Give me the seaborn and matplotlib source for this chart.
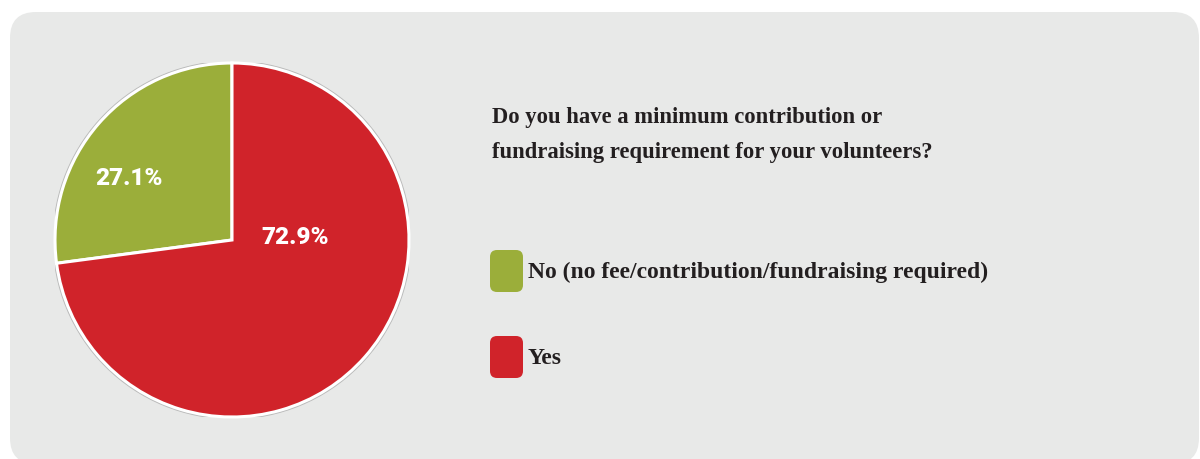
import matplotlib
matplotlib.use("Agg")
import matplotlib.pyplot as plt
from matplotlib.patches import FancyBboxPatch, Circle
import seaborn as sns

sns.set_theme(style="white")

# Survey answers and their shares (%)
answers = ["No (no fee/contribution/fundraising required)", "Yes"]
shares = [27.1, 72.9]
colors = ["#9bae3a", "#d0232a"]
question = "Do you have a minimum contribution or\nfundraising requirement for your volunteers?"

W, H = 1200, 459
fig = plt.figure(figsize=(W / 100, H / 100), dpi=100)
fig.patch.set_facecolor("white")

# Full-figure canvas in pixel units for the panel, title and legend
canvas = fig.add_axes([0, 0, 1, 1])
canvas.set_xlim(0, W)
canvas.set_ylim(H, 0)
canvas.axis("off")
canvas.add_patch(FancyBboxPatch((10, 12), 1189, 452,
                                boxstyle="round,pad=0,rounding_size=26",
                                facecolor="#e8e9e8", edgecolor="none", zorder=0))

text_color = "#231f20"
serif = ["Liberation Serif", "DejaVu Serif"]

lines = question.split("\n")
for line, base in zip(lines, [123, 158]):
    canvas.text(492, base, line, fontsize=16.3, fontweight="bold",
                family=serif, color=text_color, va="baseline", ha="left")

# Legend: rounded swatches with labels
legend_y = [271, 357]
for lab, col, yc in zip(answers, colors, legend_y):
    canvas.add_patch(FancyBboxPatch((490, yc - 21), 33, 42,
                                    boxstyle="round,pad=0,rounding_size=7",
                                    facecolor=col, edgecolor="none", zorder=2))
    canvas.text(528, yc + 1, lab, fontsize=17, fontweight="bold", family=serif,
                color=text_color, va="center", ha="left")

# Pie chart
cx, cy, r = 232, 240, 177
ax = fig.add_axes([(cx - r) / W, (H - cy - r) / H, 2 * r / W, 2 * r / H])
ax.axis("off")
ax.add_patch(Circle((0, 0), 1.0, facecolor="none", edgecolor="#9a9a9a",
                    linewidth=3.5, alpha=0.6, zorder=0))
wedges, _, autotexts = ax.pie(shares, colors=colors, startangle=90, counterclock=True,
                              radius=1.0, autopct="%.1f%%", pctdistance=0.5,
                              wedgeprops=dict(edgecolor="white", linewidth=2.2),
                              textprops=dict(color="white", fontsize=17.5,
                                             fontweight="heavy",
                                             family=["Roboto", "DejaVu Sans"]))
ax.set_xlim(-1.0, 1.0)
ax.set_ylim(-1.0, 1.0)
autotexts[0].set_position((-0.58, 0.345))
autotexts[1].set_position((0.355, 0.015))
for t in autotexts:
    t.set_ha("center")
    t.set_va("center")

fig.savefig("out.png", dpi=100, facecolor=fig.get_facecolor())
